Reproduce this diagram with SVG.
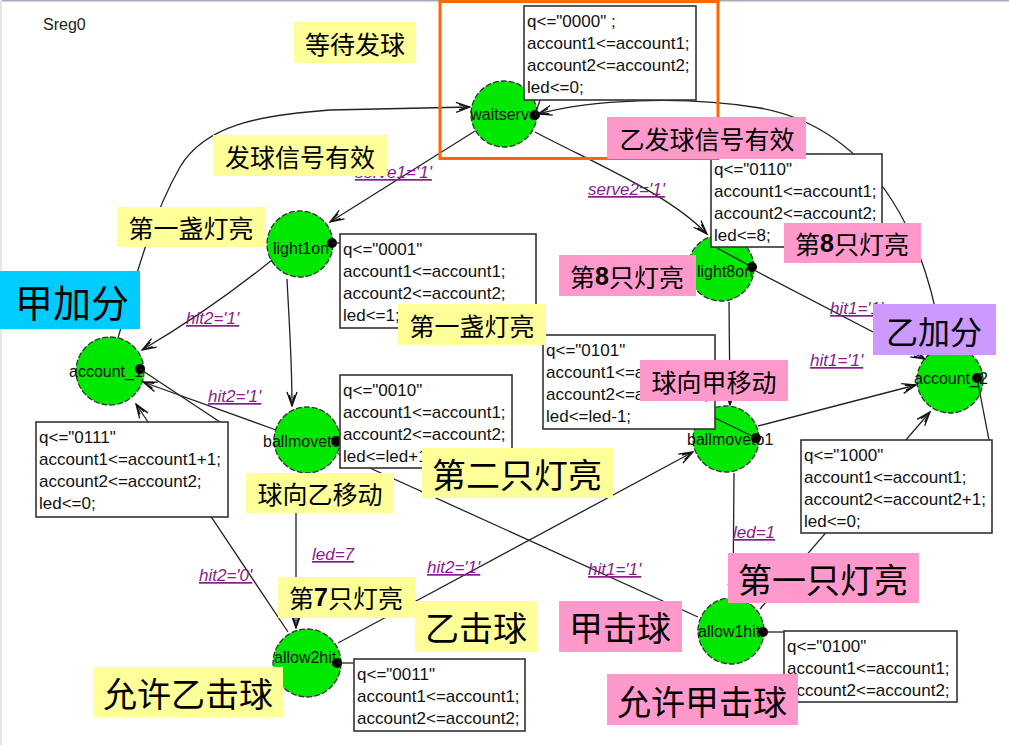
<svg xmlns="http://www.w3.org/2000/svg" width="1009" height="745" viewBox="0 0 1009 745">
<defs>
<marker id="arr" viewBox="0 0 16 12" refX="15" refY="6" markerWidth="16" markerHeight="12" markerUnits="userSpaceOnUse" orient="auto">
<path d="M1,1 L15,6 L1,11 M4,3.5 L15,6 L4,8.5" fill="none" stroke="#111" stroke-width="1.3"/>
</marker>
<style>
.st{fill:#00E800;stroke:#333;stroke-width:1.3;stroke-dasharray:6 2}
.nl{font-family:'Liberation Sans',Arial,sans-serif;font-size:16px;fill:#111}
.dot{fill:#000}
.ln{fill:none;stroke:#222;stroke-width:1.3}
.tr{fill:none;stroke:#222;stroke-width:1.3;marker-end:url(#arr)}
.box{fill:#fff;stroke:#333;stroke-width:1.6}
.bt{font-family:'Liberation Sans',Arial,sans-serif;font-size:17px;fill:#111}
.tl{font-family:'Liberation Sans',Arial,sans-serif;font-size:17px;font-style:italic;fill:#8B1A8B;text-decoration:underline}
.cy{fill:#FFFF99}
.cp{fill:#FF99CC}
.cc{font-family:'Noto Sans CJK SC',sans-serif;fill:#000;text-anchor:middle;dominant-baseline:central}
.b{font-family:'Liberation Sans',Arial,sans-serif;font-weight:bold}
</style>
</defs>
<rect x="0" y="0" width="1009" height="745" fill="#fff"/>
<line x1="0" y1="0.8" x2="1009" y2="0.8" stroke="#a8a8b8" stroke-width="1.6"/>
<line x1="1" y1="0" x2="1" y2="745" stroke="#e4e4ee" stroke-width="2"/>
<text x="43" y="30" font-family="'Liberation Sans',Arial,sans-serif" font-size="16" fill="#222">Sreg0</text>

<g id="waitserve"><circle class="st" cx="504" cy="114" r="33"/><text class="nl" x="504" y="120" text-anchor="middle">waitserve</text><circle class="dot" cx="535" cy="115" r="5"/></g>
<g id="light1on"><circle class="st" cx="300" cy="244" r="33"/><text class="nl" x="273" y="254">light1on</text><circle class="dot" cx="332" cy="243" r="5"/></g>
<g id="account_1"><circle class="st" cx="110" cy="371" r="34"/><text class="nl" x="69" y="377">account_1</text><circle class="dot" cx="140" cy="369" r="5"/></g>
<g id="ballmoveto2"><circle class="st" cx="307" cy="440" r="33"/><text class="nl" x="263" y="447">ballmoveto2</text><circle class="dot" cx="336" cy="441" r="5"/></g>
<g id="allow2hit"><circle class="st" cx="307" cy="663" r="34"/><text class="nl" x="274" y="663">allow2hit</text><circle class="dot" cx="337" cy="663" r="5"/></g>
<g id="light8on"><circle class="st" cx="721" cy="268" r="33"/><text class="nl" x="697" y="277">light8on</text><circle class="dot" cx="752" cy="267" r="5"/></g>
<g id="ballmoveto1"><circle class="st" cx="726" cy="439" r="33"/><text class="nl" x="687" y="445">ballmoveto1</text><circle class="dot" cx="756" cy="438" r="5"/></g>
<g id="account_2"><circle class="st" cx="950" cy="380" r="33"/><text class="nl" x="914" y="384">account_2</text><circle class="dot" cx="977" cy="378" r="5"/></g>
<g id="allow1hit"><circle class="st" cx="731" cy="631" r="33"/><text class="nl" x="698" y="637">allow1hit</text><circle class="dot" cx="763" cy="632" r="5"/></g>

<g id="connectors">
<path class="tr" d="M475,131 L330,222"/>
<path class="tr" d="M535,132 C600,166 670,195 707,234"/>
<path class="tr" d="M118,338 C135,280 150,220 180,167 C205,125 260,115 330,110 L470,107"/>
<path class="tr" d="M942,348 C930,250 880,130 760,108 C680,95 590,100 538,114"/>
<path class="tr" d="M272,260 Q210,310 142,350"/>
<path class="tr" d="M287,279 C289,320 292,360 292,406"/>
<path class="tr" d="M276,430 L143,382"/>
<path class="tr" d="M296,473 L296,628"/>
<path class="tr" d="M288,632 L136,404"/>
<path class="tr" d="M338,643 L693,452"/>
<path class="tr" d="M698,617 L339,454"/>
<path class="tr" d="M734,473 L733,598"/>
<path class="tr" d="M729,302 L730,405"/>
<path class="tr" d="M754,270 L925,359"/>
<path class="tr" d="M758,426 L916,385"/>
<path class="tr" d="M760,609 L930,412"/>
<path class="ln" d="M535,115 L540,100"/>
<path class="ln" d="M332,243 L340,243"/>
<path class="ln" d="M140,369 L220,422"/>
<path class="ln" d="M337,663 L354,663"/>
<path class="ln" d="M752,267 L717,248"/>
<path class="ln" d="M756,438 L715,418"/>
<path class="ln" d="M977,378 L989,440"/>
<path class="ln" d="M763,632 L784,632"/>
<text class="tl" x="355" y="178">serve1='1'</text>
<text class="tl" x="588" y="195">serve2='1'</text>
<text class="tl" x="186" y="324">hit2='1'</text>
<text class="tl" x="208" y="402">hit2='1'</text>
<text class="tl" x="312" y="560">led=7</text>
<text class="tl" x="199" y="581">hit2='0'</text>
<text class="tl" x="427" y="573">hit2='1'</text>
<text class="tl" x="588" y="575">hit1='1'</text>
<text class="tl" x="733" y="538">led=1</text>
<text class="tl" x="830" y="314">hit1='1'</text>
<text class="tl" x="810" y="366">hit1='1'</text>
</g>

<g id="act-waitserve"><rect class="box" x="524" y="6" width="172" height="94"/><text class="bt" x="527" y="27">q&lt;="0000" ;</text><text class="bt" x="527" y="49">account1&lt;=account1;</text><text class="bt" x="527" y="71">account2&lt;=account2;</text><text class="bt" x="527" y="93">led&lt;=0;</text></g>
<g id="act-light1on"><rect class="box" x="340" y="234" width="196" height="94"/><text class="bt" x="343" y="255">q&lt;="0001"</text><text class="bt" x="343" y="277">account1&lt;=account1;</text><text class="bt" x="343" y="299">account2&lt;=account2;</text><text class="bt" x="343" y="321">led&lt;=1;</text></g>
<g id="act-ballmoveto2"><rect class="box" x="340" y="375" width="172" height="93"/><text class="bt" x="343" y="396">q&lt;="0010"</text><text class="bt" x="343" y="418">account1&lt;=account1;</text><text class="bt" x="343" y="440">account2&lt;=account2;</text><text class="bt" x="343" y="462">led&lt;=led+1;</text></g>
<g id="act-ballmoveto1"><rect class="box" x="543" y="335" width="172" height="94"/><text class="bt" x="546" y="356">q&lt;="0101"</text><text class="bt" x="546" y="378">account1&lt;=account1;</text><text class="bt" x="546" y="400">account2&lt;=account2;</text><text class="bt" x="546" y="422">led&lt;=led-1;</text></g>
<g id="act-light8on"><rect class="box" x="711" y="154" width="171" height="93"/><text class="bt" x="714" y="175">q&lt;="0110"</text><text class="bt" x="714" y="197">account1&lt;=account1;</text><text class="bt" x="714" y="219">account2&lt;=account2;</text><text class="bt" x="714" y="241">led&lt;=8;</text></g>
<g id="act-account_1"><rect class="box" x="36" y="422" width="192" height="95"/><text class="bt" x="39" y="443">q&lt;="0111"</text><text class="bt" x="39" y="465">account1&lt;=account1+1;</text><text class="bt" x="39" y="487">account2&lt;=account2;</text><text class="bt" x="39" y="509">led&lt;=0;</text></g>
<g id="act-account_2"><rect class="box" x="801" y="440" width="191" height="93"/><text class="bt" x="804" y="461">q&lt;="1000"</text><text class="bt" x="804" y="483">account1&lt;=account1;</text><text class="bt" x="804" y="505">account2&lt;=account2+1;</text><text class="bt" x="804" y="527">led&lt;=0;</text></g>
<g id="act-allow2hit"><rect class="box" x="354" y="659" width="171" height="72"/><text class="bt" x="357" y="680">q&lt;="0011"</text><text class="bt" x="357" y="702">account1&lt;=account1;</text><text class="bt" x="357" y="724">account2&lt;=account2;</text></g>
<g id="act-allow1hit"><rect class="box" x="784" y="631" width="173" height="71"/><text class="bt" x="787" y="652">q&lt;="0100"</text><text class="bt" x="787" y="674">account1&lt;=account1;</text><text class="bt" x="787" y="696">account2&lt;=account2;</text></g>

<rect x="440" y="1.5" width="278" height="157" fill="none" stroke="#FF6600" stroke-width="3"/>

<g id="callouts">
<rect class="cy" x="294" y="22" width="122" height="41"/><text class="cc" x="355" y="43" font-size="25">等待发球</text>
<rect class="cy" x="213" y="135" width="174" height="41"/><text class="cc" x="300" y="156" font-size="25">发球信号有效</text>
<rect class="cy" x="117" y="207" width="148" height="40"/><text class="cc" x="191" y="227" font-size="25">第一盏灯亮</text>
<rect x="0" y="271" width="140" height="58" fill="#00CCFF"/><text class="cc" x="72" y="300" font-size="38">甲加分</text>
<rect class="cy" x="398" y="304" width="148" height="41"/><text class="cc" x="472" y="325" font-size="25">第一盏灯亮</text>
<rect class="cp" x="607" y="117" width="199" height="42"/><text class="cc" x="707" y="138" font-size="25">乙发球信号有效</text>
<rect class="cp" x="784" y="223" width="137" height="40"/><text class="cc" x="852" y="243" font-size="25">第<tspan class="b">8</tspan>只灯亮</text>
<rect class="cp" x="559" y="255" width="137" height="41"/><text class="cc" x="627" y="276" font-size="25">第<tspan class="b">8</tspan>只灯亮</text>
<rect x="873" y="304" width="123" height="51" fill="#CC99FF"/><text class="cc" x="934" y="330" font-size="32">乙加分</text>
<rect class="cp" x="640" y="360" width="148" height="41"/><text class="cc" x="714" y="381" font-size="25">球向甲移动</text>
<rect class="cy" x="246" y="473" width="148" height="40"/><text class="cc" x="320" y="493" font-size="25">球向乙移动</text>
<rect class="cy" x="422" y="448" width="191" height="50"/><text class="cc" x="517" y="473" font-size="34">第二只灯亮</text>
<rect class="cy" x="278" y="577" width="137" height="41"/><text class="cc" x="346" y="597" font-size="25">第<tspan class="b">7</tspan>只灯亮</text>
<rect class="cy" x="415" y="601" width="122" height="51"/><text class="cc" x="476" y="626" font-size="34">乙击球</text>
<rect class="cy" x="93" y="667" width="190" height="50"/><text class="cc" x="188" y="692" font-size="34">允许乙击球</text>
<rect class="cp" x="559" y="601" width="123" height="51"/><text class="cc" x="620" y="626" font-size="34">甲击球</text>
<rect class="cp" x="728" y="553" width="191" height="50"/><text class="cc" x="823" y="578" font-size="34">第一只灯亮</text>
<rect class="cp" x="607" y="674" width="191" height="51"/><text class="cc" x="702" y="700" font-size="34">允许甲击球</text>
</g>
</svg>
